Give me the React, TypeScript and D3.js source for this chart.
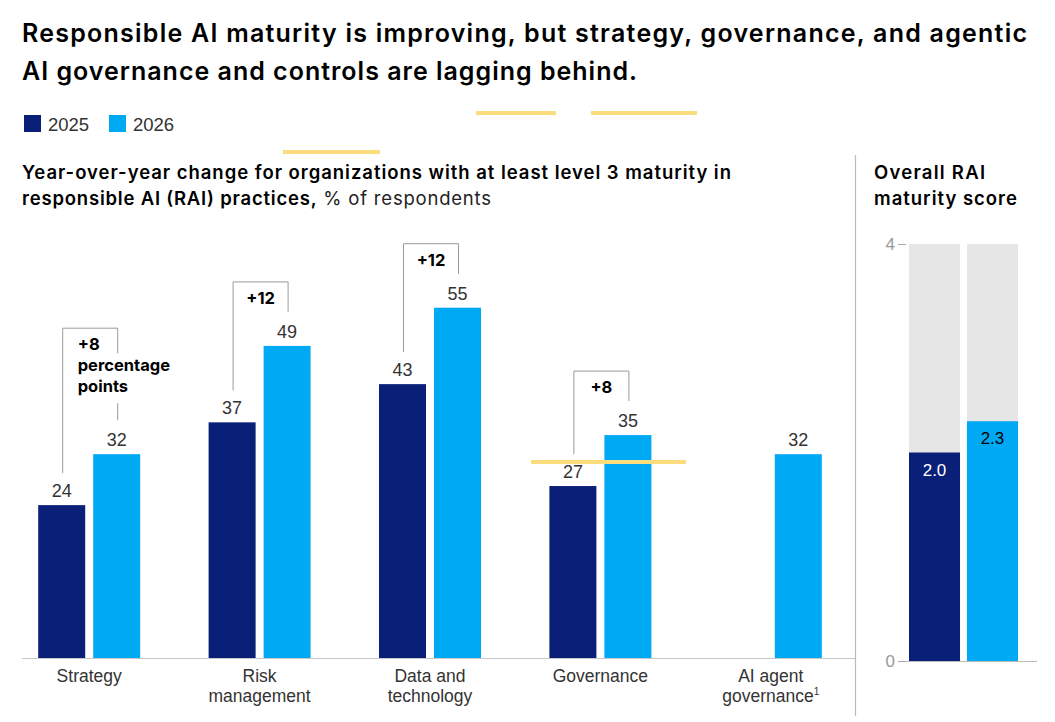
import React from "react";
import * as d3 from "d3";

const categories = ["Strategy", "Risk management", "Data and technology", "Governance", "AI agent governance"];
const categoryLines = [["Strategy"], ["Risk", "management"], ["Data and", "technology"], ["Governance"], ["AI agent", "governance"]];
const categoryFootnote = ["", "", "", "", "1"];
const years = ["2025", "2026"];
const values2025: (number | null)[] = [24, 37, 43, 27, null];
const values2026: (number | null)[] = [32, 49, 55, 35, 32];
const changeLabels: (string[] | null)[] = [["+8", "percentage", "points"], ["+12"], ["+12"], ["+8"], null];
const overallScores = [2.0, 2.3];
const overallTicks = [0, 4];
const overallMax = 4;

const NAVY = "#0a1f78";
const BLUE = "#00a9f4";
const BOLD_FONT = "Inter, 'Noto Sans', sans-serif";
const FONT = "'Liberation Sans', Arial, sans-serif";

export default function App() {
  const W = 1055, H = 722;
  const x = d3.scaleBand<string>().domain(categories).range([4, 856]).padding(0);
  const xs = d3.scaleBand<string>().domain(years).range([-51, 51]).paddingInner(0.1455);
  const y = d3.scaleLinear().domain([0, 55]).range([658, 307.7]);
  const yo = d3.scaleLinear().domain([0, overallMax]).range([661, 244]);
  const xo = d3.scaleBand<string>().domain(years).range([909, 1018]).paddingInner(0.12);

  const cx = (c: string) => (x(c) as number) + x.bandwidth() / 2;

  return (
    <svg width={W} height={H} style={{ position: "absolute", left: 0, top: 0, background: "#fff" }}>
      {/* Title */}
      <text x={22} y={42} fontFamily={BOLD_FONT} fontWeight={600} fontSize={25} fill="#000" textLength={1005} lengthAdjust="spacing">
        Responsible AI maturity is improving, but strategy, governance, and agentic
      </text>
      <text x={22} y={80} fontFamily={BOLD_FONT} fontWeight={600} fontSize={25} fill="#000" textLength={615} lengthAdjust="spacing">
        AI governance and controls are lagging behind.
      </text>

      {/* Legend */}
      {years.map((yr, i) => (
        <g key={yr} transform={`translate(${24 + i * 85},0)`}>
          <rect x={0} y={115} width={17} height={17} fill={i === 0 ? NAVY : BLUE} />
          <text x={24} y={131} fontFamily={FONT} fontSize={18.5} fill="#333">{yr}</text>
        </g>
      ))}

      {/* decorative highlight marks */}
      <line x1={476} x2={556} y1={113} y2={113} stroke="#fbdd7e" strokeWidth={4} />
      <line x1={591} x2={697} y1={113} y2={113} stroke="#fbdd7e" strokeWidth={4} />
      <line x1={283} x2={380} y1={152} y2={152} stroke="#fbdd7e" strokeWidth={4} />

      {/* Subtitle */}
      <text x={22} y={179} fontFamily={BOLD_FONT} fontWeight={600} fontSize={18.5} fill="#000" textLength={709} lengthAdjust="spacing">
        Year-over-year change for organizations with at least level 3 maturity in
      </text>
      <text x={22} y={205} fontFamily={BOLD_FONT} fontSize={18.5} fill="#000" textLength={469} lengthAdjust="spacing">
        <tspan fontWeight={600}>responsible AI (RAI) practices,</tspan>
        <tspan fontWeight={400} fill="#222"> % of respondents</tspan>
      </text>

      {/* Bars */}
      {categories.map((c, i) => {
        const g = cx(c);
        const v1 = values2025[i];
        const v2 = values2026[i];
        return (
          <g key={c}>
            {v1 != null && (
              <g>
                <rect x={g + (xs("2025") as number)} y={y(v1)} width={xs.bandwidth()} height={y(0) - y(v1)} fill={NAVY} />
                <text x={g + (xs("2025") as number) + xs.bandwidth() / 2} y={y(v1) - 8} textAnchor="middle" fontFamily={FONT} fontSize={18} fill="#333">{v1}</text>
              </g>
            )}
            {v2 != null && (
              <g>
                <rect x={g + (xs("2026") as number)} y={y(v2)} width={xs.bandwidth()} height={y(0) - y(v2)} fill={BLUE} />
                <text x={g + (xs("2026") as number) + xs.bandwidth() / 2} y={y(v2) - 8} textAnchor="middle" fontFamily={FONT} fontSize={18} fill="#333">{v2}</text>
              </g>
            )}
          </g>
        );
      })}

      {/* Change brackets */}
      {categories.map((c, i) => {
        const lines = changeLabels[i];
        const v1 = values2025[i];
        const v2 = values2026[i];
        if (!lines || v1 == null || v2 == null) return null;
        const g = cx(c);
        const lx = g + (xs("2025") as number) + xs.bandwidth() / 2 + 1;
        const rx = g + (xs("2026") as number) + xs.bandwidth() / 2 + 1;
        const lBottom = y(v1) - 32;
        const rBottom = y(v2) - 34;
        const top = rBottom - 30 - (lines.length - 1) * 31;
        const multi = lines.length > 1;
        const lastBase = top + 22 + (lines.length - 1) * 21;
        return (
          <g key={"b" + c} stroke="#9a9a9a" strokeWidth={1} fill="none">
            <path d={`M${lx},${lBottom}V${top}H${rx}V${multi ? top + 25 : rBottom}`} />
            {multi && <line x1={rx} x2={rx} y1={lastBase + 11} y2={rBottom} />}
            <text
              textAnchor={multi ? "start" : "middle"}
              fontFamily={BOLD_FONT}
              fontWeight={700}
              fontSize={16.5}
              fill="#000"
              stroke="none"
            >
              {lines.map((t, k) => (
                <tspan key={k} x={multi ? lx + 15 : (lx + rx) / 2} y={top + 22 + k * 21}>{t}</tspan>
              ))}
            </text>
          </g>
        );
      })}

      <line x1={531} x2={686} y1={462} y2={462} stroke="#fbdd7e" strokeWidth={4} />

      {/* Baseline */}
      <line x1={22} x2={855} y1={y(0) + 0.5} y2={y(0) + 0.5} stroke="#c8c8c8" strokeWidth={1} />

      {/* Category labels */}
      {categories.map((c, i) => (
        <text key={"l" + c} textAnchor="middle" fontFamily={FONT} fontSize={17.5} fill="#333">
          {categoryLines[i].map((t, k) => (
            <tspan key={k} x={cx(c)} y={682 + k * 20}>
              {t}
              {k === categoryLines[i].length - 1 && categoryFootnote[i] ? (
                <tspan fontSize={10} dy={-7}>{categoryFootnote[i]}</tspan>
              ) : null}
            </tspan>
          ))}
        </text>
      ))}

      {/* Divider */}
      <line x1={855.5} x2={855.5} y1={155} y2={716} stroke="#bbb" strokeWidth={1.2} />

      {/* Right panel */}
      <text x={874} y={179} fontFamily={BOLD_FONT} fontWeight={600} fontSize={18.5} fill="#000" textLength={111} lengthAdjust="spacing">Overall RAI</text>
      <text x={874} y={205} fontFamily={BOLD_FONT} fontWeight={600} fontSize={18.5} fill="#000" textLength={143} lengthAdjust="spacing">maturity score</text>

      {years.map((yr, i) => (
        <g key={"o" + yr}>
          <rect x={xo(yr)} y={yo(overallMax)} width={xo.bandwidth()} height={yo(0) - yo(overallMax)} fill="#e6e6e6" />
          <rect x={xo(yr)} y={yo(overallScores[i])} width={xo.bandwidth()} height={yo(0) - yo(overallScores[i])} fill={i === 0 ? NAVY : BLUE} />
          <text
            x={(xo(yr) as number) + xo.bandwidth() / 2}
            y={yo(overallScores[i]) + 23}
            textAnchor="middle"
            fontFamily={FONT}
            fontSize={17}
            fill={i === 0 ? "#fff" : "#000"}
          >
            {overallScores[i].toFixed(1)}
          </text>
        </g>
      ))}
      <line x1={898} x2={1037} y1={yo(0) + 0.5} y2={yo(0) + 0.5} stroke="#bbb" strokeWidth={1} />
      {overallTicks.map((t) => (
        <g key={"t" + t}>
          <line x1={898} x2={906} y1={yo(t) + 0.5} y2={yo(t) + 0.5} stroke="#aaa" strokeWidth={1} />
          <text x={895} y={yo(t) + 6} textAnchor="end" fontFamily={FONT} fontSize={17} fill="#999">{t}</text>
        </g>
      ))}
    </svg>
  );
}
